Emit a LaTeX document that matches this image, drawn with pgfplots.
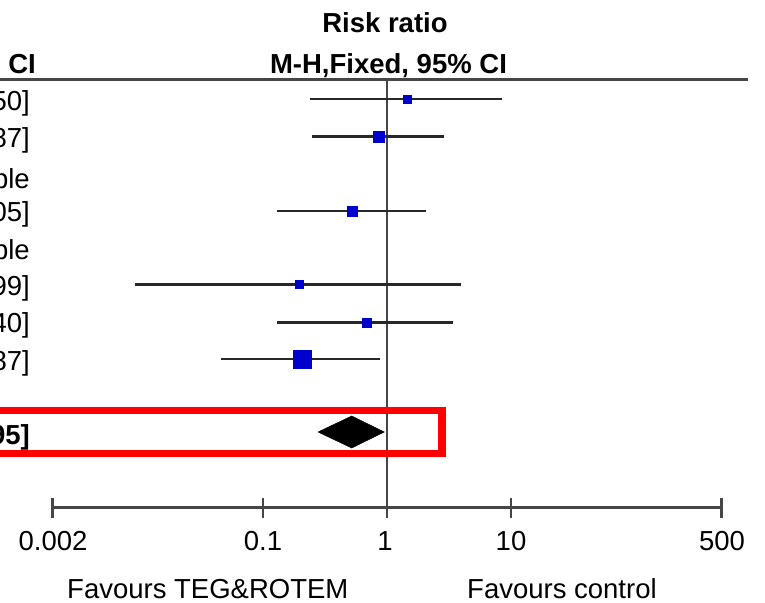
\documentclass[border=0pt]{standalone}
\usepackage{pgfplots}
\pgfplotsset{compat=1.18}
\usepackage{fontspec}
\setmainfont{Liberation Sans}
\definecolor{mkblue}{RGB}{0,0,205}
\definecolor{axisgray}{RGB}{70,70,70}
\definecolor{cigray}{RGB}{40,40,40}
\definecolor{redbox}{RGB}{255,0,0}
\begin{document}
\begin{tikzpicture}[x=1pt,y=1pt,every node/.style={inner sep=0pt,font=\fontsize{27.5}{33}\selectfont}]
\useasboundingbox (0pt,0pt) rectangle (765pt,602pt);
\begin{axis}[
  at={(52.5pt,94pt)}, anchor=south west,
  scale only axis, width=669pt, height=428pt,
  xmode=log, xmin=0.002, xmax=500, ymin=94, ymax=522,
  axis x line=bottom, axis y line=none,
  axis line style={-, line width=3pt, color=axisgray},
  xtick={0.002,0.1,1,10,500}, xticklabels={,,,,}, minor xtick={},
  major tick length=20pt, tick align=center,
  xtick style={line width=2.5pt, color=axisgray},
  clip=false,
  ci/.style={line width=2.5pt, color=cigray, no marks, forget plot},
  sq/.style={only marks, mark=square*, color=mkblue, forget plot},
]
% vertical line of no effect
\draw[line width=2pt, color=axisgray] (axis cs:1,85) -- (axis cs:1,522);
% study 1
\addplot[ci] coordinates {(0.24,503) (8.50,503)};
\addplot[sq, mark size=4pt] coordinates {(1.45,503)};
% study 2
\addplot[ci] coordinates {(0.25,465.5) (2.87,465.5)};
\addplot[sq, mark size=5.5pt] coordinates {(0.85,465.5)};
% study 4
\addplot[ci] coordinates {(0.13,391) (2.05,391)};
\addplot[sq, mark size=5pt] coordinates {(0.52,391)};
% study 6
\addplot[ci] coordinates {(0.0093,317.5) (3.99,317.5)};
\addplot[sq, mark size=4pt] coordinates {(0.195,317.5)};
% study 7
\addplot[ci] coordinates {(0.13,279.5) (3.40,279.5)};
\addplot[sq, mark size=4.5pt] coordinates {(0.68,279.5)};
% study 8
\addplot[ci] coordinates {(0.046,243) (0.87,243)};
\addplot[sq, mark size=9pt] coordinates {(0.206,243)};
% total diamond
\addplot[fill=black, draw=black, line width=0.5pt, forget plot] coordinates {(0.278,170) (0.519,186) (0.95,170) (0.519,154)} -- cycle;
\end{axis}
% header
\draw[line width=3pt, color=axisgray] (0pt,522pt) -- (748pt,522pt);
\node[anchor=base, font=\fontsize{27.5}{33}\selectfont\bfseries] at (385pt,569pt) {Risk ratio};
\node[anchor=base, font=\fontsize{27.5}{33}\selectfont\bfseries] at (388.5pt,528pt) {M-H,Fixed, 95\% CI};
\node[anchor=base east, font=\fontsize{27.5}{33}\selectfont\bfseries] at (36pt,528pt) {M-H, Fixed, 95\% CI};
% row texts (left column, mostly outside the picture)
\node[anchor=base east] at (30pt,491pt) {1.45 [0.24, 8.50]};
\node[anchor=base east] at (30pt,454pt) {0.85 [0.25, 2.87]};
\node[anchor=base east] at (30pt,413pt) {Not estimable};
\node[anchor=base east] at (30pt,380pt) {0.52 [0.13, 2.05]};
\node[anchor=base east] at (30pt,342pt) {Not estimable};
\node[anchor=base east] at (30pt,306pt) {0.20 [0.01, 3.99]};
\node[anchor=base east] at (30pt,269pt) {0.68 [0.13, 3.40]};
\node[anchor=base east] at (30pt,231pt) {0.21 [0.05, 0.87]};
\node[anchor=base east, font=\fontsize{27.5}{33}\selectfont\bfseries] at (30pt,157pt) {0.52 [0.28, 0.95]};
% tick labels
\node[anchor=base] at (53pt,52pt) {0.002};
\node[anchor=base] at (263pt,52pt) {0.1};
\node[anchor=base] at (385pt,52pt) {1};
\node[anchor=base] at (511pt,52pt) {10};
\node[anchor=base] at (722pt,52pt) {500};
% favours labels
\node[anchor=base west] at (67pt,4pt) {Favours TEG\&ROTEM};
\node[anchor=base west] at (467pt,4pt) {Favours control};
% highlight box
\draw[line width=7.5pt, color=redbox] (-30pt,191.5pt) rectangle (442pt,148.5pt);
\end{tikzpicture}
\end{document}
